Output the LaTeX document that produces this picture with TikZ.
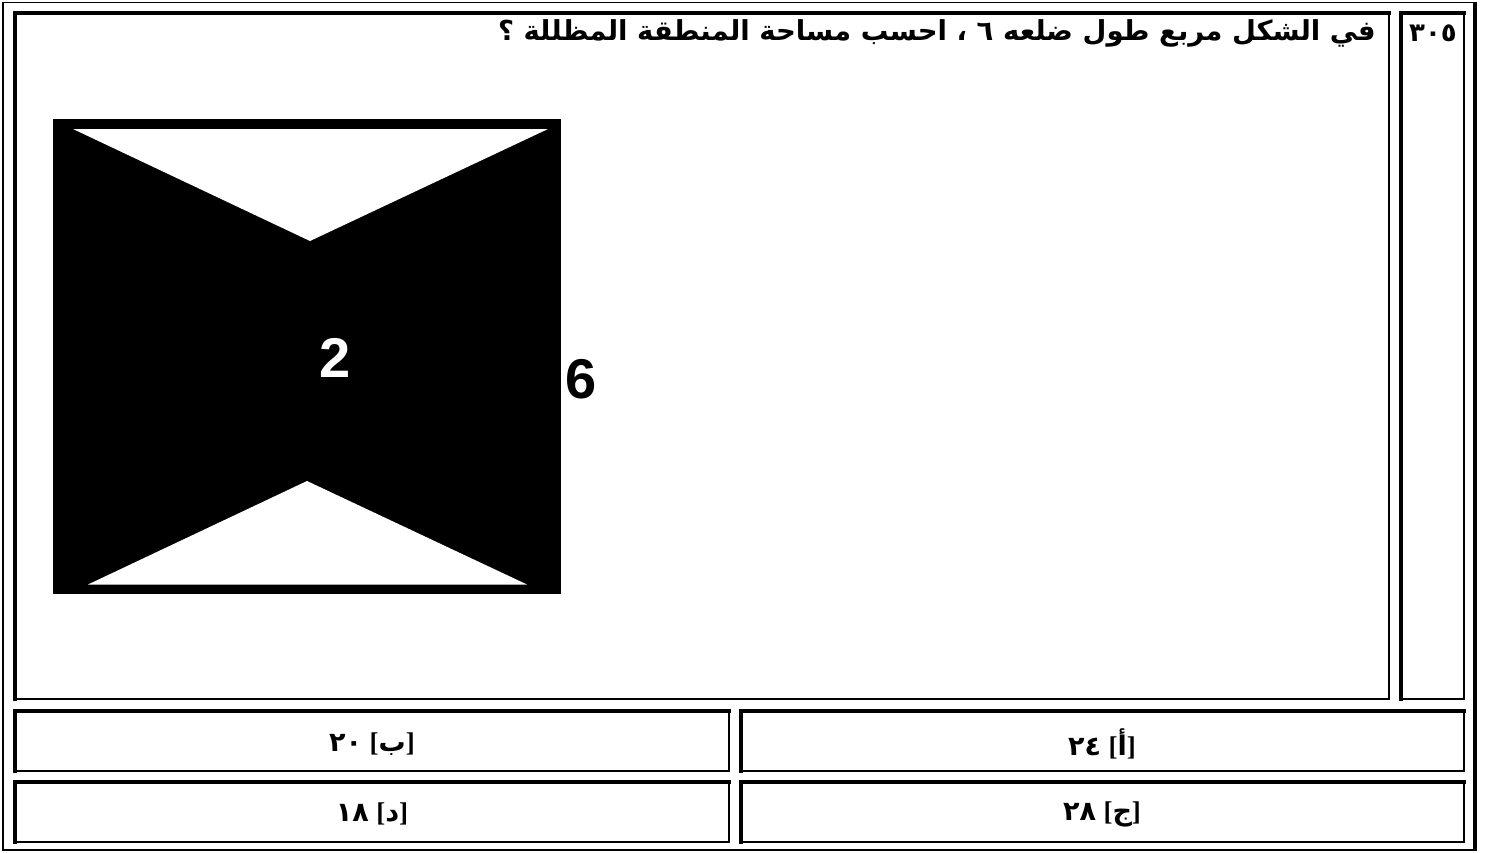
\documentclass[tikz,border=0pt]{standalone}
\usepackage{fontspec}
\setmainfont{Liberation Sans}
\newfontfamily\arabicfont[Script=Arabic]{DejaVu Sans}
\newfontfamily\bracketfont{Liberation Serif}
\TeXXeTstate=1
\tikzset{
  thickedge/.style={line width=4pt, line cap=rect},
  thinedge/.style={line width=2pt, line cap=rect},
  titletext/.style={font=\arabicfont\bfseries\fontsize{27.5}{32}\selectfont, inner sep=0pt},
  numtext/.style={font=\arabicfont\bfseries\fontsize{26}{30}\selectfont, inner sep=0pt},
  anstext/.style={font=\bfseries\fontsize{27}{30}\selectfont, inner sep=0pt},
  figlabel/.style={font=\bfseries\fontsize{56}{60}\selectfont, inner sep=0pt}
}
\newcommand\tabcell[4]{%
  \draw[thinedge] (#3,#2) -- (#3,#4) -- (#1,#4);
  \draw[thickedge] (#1,#4) -- (#1,#2) -- (#3,#2);
}
\newcommand\answer[2]{{\arabicfont #2}\ {\bracketfont[}{\arabicfont #1}{\bracketfont]}}
\begin{document}
\begin{tikzpicture}[x=1pt,y=-1pt]
\useasboundingbox (0,0) rectangle (1485,852);
\fill[white] (0,0) rectangle (1485,852);
% outer table border
\draw[line width=1.5pt] (1475,850) -- (3,850) -- (3,2.5) -- (1475,2.5);
\draw[line width=4pt] (1475,1.8) -- (1475,850.7);
% cells
\tabcell{15}{13}{1389}{699}
\tabcell{1401}{13}{1464}{699}
\tabcell{15}{711}{729}{771}
\tabcell{741}{711}{1464}{771}
\tabcell{15}{782}{729}{842}
\tabcell{741}{782}{1464}{842}
% texts
\node[numtext] (num) at (1433,33) {\beginR ٣٠٥\endR};
\node[titletext, anchor=east] (title) at (1376,33) {\beginR في الشكل مربع طول ضلعه ٦ ، احسب مساحة المنطقة المظللة ؟\endR};
\node[anstext] (a) at (1102,744) {\answer{أ}{٢٤}};
\node[anstext] (b) at (372,744) {\answer{ب}{٢٠}};
\node[anstext] (c) at (1102,814) {\answer{ج}{٢٨}};
\node[anstext] (d) at (372,814) {\answer{د}{١٨}};
% figure
\fill[black] (52.7,119) rectangle (561,593.5);
\fill[white] (73,129) -- (548,129) -- (310,241) -- cycle;
\fill[white] (88,584.5) -- (527,584.5) -- (307,481) -- cycle;
\node[figlabel, white] (two) at (335,358) {2};
\node[figlabel] (six) at (581,379) {6};
\end{tikzpicture}
\end{document}
